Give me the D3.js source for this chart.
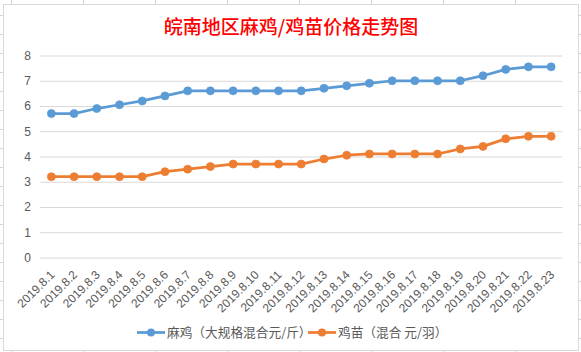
<!DOCTYPE html>
<html>
<head>
<meta charset="utf-8">
<script src="https://cdn.jsdelivr.net/npm/d3@7/dist/d3.min.js"></script>
<style>
  html, body { margin: 0; padding: 0; background: #fff; }
  svg { display: block; }
</style>
</head>
<body>
<svg id="chart" width="581" height="352"></svg>
<script>
// ---- data ----
const dates = ["2019.8.1","2019.8.2","2019.8.3","2019.8.4","2019.8.5","2019.8.6","2019.8.7","2019.8.8",
  "2019.8.9","2019.8.10","2019.8.11","2019.8.12","2019.8.13","2019.8.14","2019.8.15","2019.8.16",
  "2019.8.17","2019.8.18","2019.8.19","2019.8.20","2019.8.21","2019.8.22","2019.8.23"];
const majiPrice = [5.7,5.7,5.9,6.05,6.2,6.4,6.6,6.6,6.6,6.6,6.6,6.6,6.7,6.8,6.9,7.0,7.0,7.0,7.0,7.2,7.45,7.55,7.55];
const jimiaoPrice = [3.2,3.2,3.2,3.2,3.2,3.4,3.5,3.6,3.7,3.7,3.7,3.7,3.9,4.05,4.1,4.1,4.1,4.1,4.3,4.4,4.7,4.8,4.8];
const yTicks = [0,1,2,3,4,5,6,7,8];
const seriesNames = ["麻鸡（大规格混合元/斤）", "鸡苗（混合 元/羽）"];
const titleText = "皖南地区麻鸡/鸡苗价格走势图";

const colors = ["#5B9BD5", "#ED7D31"];
const textColor = "#595959";
const fontFam = "'Liberation Sans', 'Noto Sans CJK SC', sans-serif";
const cjkFont = "'Noto Sans CJK SC', sans-serif";

const svg = d3.select("#chart");
const W = 581, H = 352;

// spreadsheet background grid
const bg = svg.append("g");
for (let x = 11.5; x < W; x += 72) {
  bg.append("line").attr("x1", x).attr("x2", x).attr("y1", 0).attr("y2", H)
    .attr("stroke", "#d4d4d4").attr("stroke-width", 1);
}
for (let k = 0; k < 20; k++) {
  const y = Math.round(14.5 + 19.05 * k) + 0.5;
  bg.append("line").attr("x1", 0).attr("x2", W).attr("y1", y).attr("y2", y)
    .attr("stroke", "#d4d4d4").attr("stroke-width", 1);
}

// chart area
svg.append("rect").attr("x", 3.5).attr("y", 4.5).attr("width", 575).attr("height", 346)
  .attr("fill", "#fff").attr("stroke", "#d9d9d9").attr("stroke-width", 1);

// title
svg.append("text").attr("x", 291).attr("y", 34)
  .attr("text-anchor", "middle")
  .style("font-family", cjkFont).style("font-size", "19px").style("font-weight", "500")
  .attr("fill", "#FF0000").text(titleText);

// scales
const x = d3.scaleBand().domain(dates).range([40, 562.5]);
const y = d3.scaleLinear().domain([0, 8]).range([257.5, 55.5]);
const cx = d => x(d) + x.bandwidth() / 2;

// gridlines + y axis
const yAxis = d3.axisLeft(y).tickValues(yTicks).tickSize(-(562.5 - 40)).tickPadding(9);
const gy = svg.append("g").attr("transform", "translate(40,0)").call(yAxis);
gy.select(".domain").remove();
gy.selectAll(".tick line").attr("stroke", "#d9d9d9").attr("stroke-width", 1);
gy.selectAll(".tick text").attr("fill", textColor)
  .style("font-family", fontFam).style("font-size", "12px");

// x axis labels
const xAxis = d3.axisBottom(x).tickSize(0).tickPadding(0);
const gx = svg.append("g").attr("transform", "translate(0,257.5)").call(xAxis);
gx.select(".domain").remove();
gx.selectAll(".tick text")
  .attr("fill", textColor)
  .style("font-family", fontFam).style("font-size", "12px")
  .attr("text-anchor", "end")
  .attr("dy", null).attr("y", null)
  .attr("transform", "translate(4,18) rotate(-45)");

// lines
const series = [majiPrice, jimiaoPrice];
series.forEach((vals, i) => {
  const pts = dates.map((d, j) => [cx(d), y(vals[j])]);
  svg.append("path").datum(pts)
    .attr("d", d3.line())
    .attr("fill", "none").attr("stroke", colors[i])
    .attr("stroke-width", 2.75).attr("stroke-linejoin", "round").attr("stroke-linecap", "round");
  svg.append("g").selectAll("circle").data(pts).join("circle")
    .attr("cx", p => p[0]).attr("cy", p => p[1]).attr("r", 4)
    .attr("fill", colors[i]).attr("stroke", colors[i]).attr("stroke-width", 0.75);
});

// legend
const legendItems = [
  { x0: 137, name: seriesNames[0], c: colors[0] },
  { x0: 308, name: seriesNames[1], c: colors[1] }
];
const ly = 332.5;
legendItems.forEach(it => {
  const g = svg.append("g");
  g.append("line").attr("x1", it.x0).attr("x2", it.x0 + 28).attr("y1", ly).attr("y2", ly)
    .attr("stroke", it.c).attr("stroke-width", 2.75);
  g.append("circle").attr("cx", it.x0 + 14).attr("cy", ly).attr("r", 4).attr("fill", it.c);
  g.append("text").attr("x", it.x0 + 30).attr("y", ly + 4.5)
    .style("font-family", cjkFont).style("font-size", "12.7px")
    .attr("fill", textColor).text(it.name);
});
</script>
</body>
</html>
